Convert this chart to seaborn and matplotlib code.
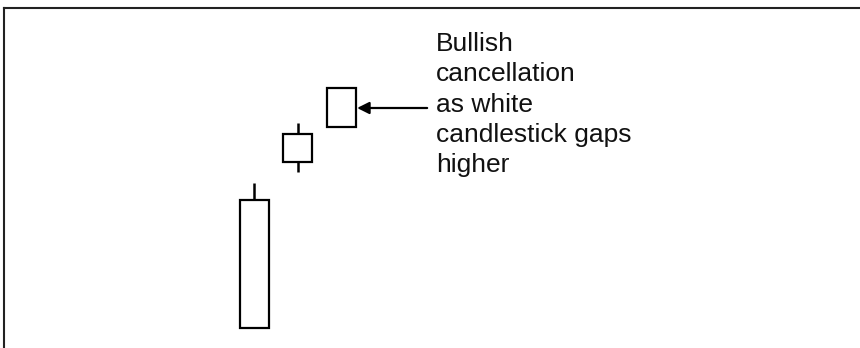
import matplotlib
matplotlib.use("Agg")
import matplotlib.pyplot as plt
import seaborn as sns
import numpy as np

# candle data (arbitrary price units)
days = [0, 1, 2]
opens = [2.0, 18.6, 22.1]
closes = [14.8, 21.4, 26.0]
highs = [16.5, 22.5, 26.0]
lows = [2.0, 17.6, 22.1]

note = "Bullish\ncancellation\nas white\ncandlestick gaps\nhigher"

sns.set_style("white")
plt.rcParams['font.family'] = ['Liberation Sans', 'DejaVu Sans']

fig = plt.figure(figsize=(8.6, 3.48), dpi=100)
ax = fig.add_axes([4 / 860, 0, 856 / 860, 340 / 348])

ax.vlines(days, lows, highs, color="black", linewidth=1.8, zorder=1)
ax.bar(days, np.array(closes) - np.array(opens), bottom=opens, width=0.667,
       color="white", edgecolor="black", linewidth=1.6, zorder=2)

ax.annotate("", xy=(2.37, 24.0), xytext=(3.98, 24.0),
            arrowprops=dict(arrowstyle="-|>", color="black", lw=1.6,
                            mutation_scale=18, shrinkA=0, shrinkB=0))
ax.text(4.18, 31.6, note, fontsize=19, va="top", ha="left",
        linespacing=1.33, color="#111111")

ax.set_xlim(-5.747, 13.93)
ax.set_ylim(0, 34)
ax.set_xticks([])
ax.set_yticks([])
for side in ["right", "bottom"]:
    ax.spines[side].set_visible(False)
for side in ["top", "left"]:
    ax.spines[side].set_color("#222222")
    ax.spines[side].set_linewidth(1.5)

fig.savefig("out.png", dpi=100)
